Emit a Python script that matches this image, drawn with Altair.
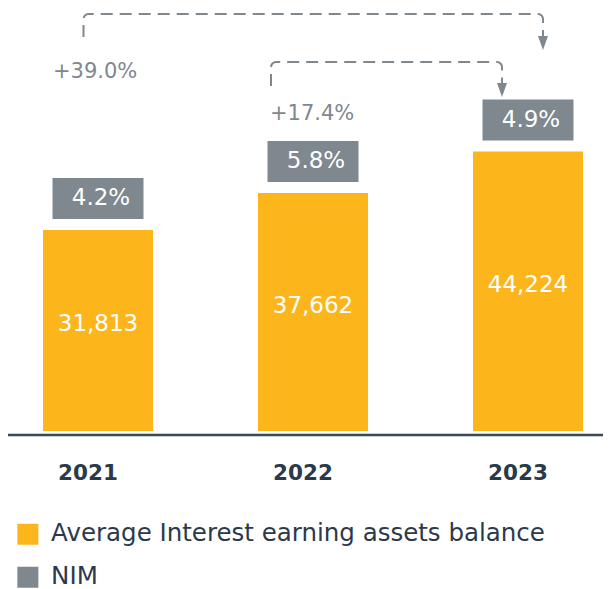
import math
import altair as alt
import pandas as pd

# ---------------- data ----------------
years = ["2021", "2022", "2023"]
assets = [31813, 37662, 44224]
nim = [4.2, 5.8, 4.9]
growth_labels = ["+39.0%", "+17.4%"]
growth_from = [0, 1]
growth_to = [2, 2]

SERIES_A = "Average Interest earning assets balance"
SERIES_N = "NIM"

# ---------------- style ----------------
ORANGE = "#FDB51C"
GREY = "#7F878F"
DARK = "#2B3A4A"
AXIS = "#34495A"
FONT = "DejaVu Sans"

W, H = 595, 581
STEP = 215.0          # px between bar centres
X0 = 90.0             # first bar centre (px in view)
BASE = 423.0          # baseline (px in view)
K = 0.00632           # px per value unit

x_dom = [-X0 / STEP, (W - X0) / STEP]
y_dom = [-(H - BASE) / K, BASE / K]
xs = alt.Scale(domain=x_dom, nice=False, zero=False)
ys = alt.Scale(domain=y_dom, nice=False, zero=False)


def ux(px):
    return px / STEP


def uy(px):
    return px / K


def vy(view_px):
    return (BASE - view_px) / K


# bars
bars = pd.DataFrame({
    "i": range(len(years)),
    "year": years,
    "value": assets,
    "series": SERIES_A,
})
bars["x1"] = bars["i"] - ux(55)
bars["x2"] = bars["i"] + ux(55)
bars["mid"] = bars["value"] / 2
bars["lab"] = [f"{v:,}" for v in assets]
bars["zero"] = 0

# NIM boxes
boxes = pd.DataFrame({"i": range(len(years)), "series": SERIES_N})
boxes["x1"] = boxes["i"] - ux(45.5)
boxes["x2"] = boxes["i"] + ux(45.5)
boxes["y1"] = [v + uy(11) for v in assets]
boxes["y2"] = boxes["y1"] + uy(41)
boxes["yc"] = (boxes["y1"] + boxes["y2"]) / 2
boxes["lab"] = [f"{n:.1f}%" for n in nim]

# annotation layout (px): left offset from start bar, right offset from end bar,
# top level (view px), start depth, tip depth, label dx from left leg, label depth
ann_layout = [
    dict(lo=-14.5, ro=15, top=6, start=23, tip=36, ldx=-30.5, ldepth=58),
    dict(lo=-42, ro=-26, top=54, start=24, tip=35, ldx=-1, ldepth=52),
]

line_rows, head_rows, lab_rows = [], [], []
r = 5.0
for a, (f, t, lab, L) in enumerate(zip(growth_from, growth_to, growth_labels, ann_layout)):
    lx = X0 + STEP * f + L["lo"]
    rx = X0 + STEP * t + L["ro"]
    top = L["top"]
    pts = [(lx, top + L["start"])]
    cx, cy = lx + r, top + r
    for th in (180, 157.5, 135, 112.5, 90):
        pts.append((cx + r * math.cos(math.radians(th)), cy - r * math.sin(math.radians(th))))
    cx, cy = rx - r, top + r
    for th in (90, 67.5, 45, 22.5, 0):
        pts.append((cx + r * math.cos(math.radians(th)), cy - r * math.sin(math.radians(th))))
    tip = top + L["tip"]
    pts.append((rx, tip - 12))
    for o, (px, py) in enumerate(pts):
        line_rows.append({"arrow": a, "order": o, "x": (px - X0) / STEP, "y": vy(py)})
    head_rows.append({"arrow": a, "x": (rx - X0) / STEP, "y": vy(tip - 7)})
    lab_rows.append({"x": (lx + L["ldx"] - X0) / STEP, "y": vy(top + L["ldepth"]), "lab": lab})

lines = pd.DataFrame(line_rows)
heads = pd.DataFrame(head_rows)
glabs = pd.DataFrame(lab_rows)

base_df = pd.DataFrame({"x1": [x_dom[0]], "x2": [x_dom[1]], "y": [0]})

color = alt.Color(
    "series:N",
    scale=alt.Scale(domain=[SERIES_A, SERIES_N], range=[ORANGE, GREY]),
    legend=alt.Legend(
        orient="none", legendX=7.6, legendY=514, direction="vertical", title=None,
        symbolType="square", symbolSize=441, symbolStrokeWidth=0, symbolOpacity=1,
        labelFont=FONT, labelFontSize=24.5, labelColor=DARK,
        labelOffset=11, rowPadding=18, padding=0, labelLimit=0,
    ),
)

bar_layer = alt.Chart(bars).mark_rect().encode(
    x=alt.X("x1:Q", scale=xs, axis=None), x2="x2:Q",
    y=alt.Y("zero:Q", scale=ys, axis=None), y2="value:Q",
    color=color,
)

box_layer = alt.Chart(boxes).mark_rect().encode(
    x=alt.X("x1:Q", scale=xs, axis=None), x2="x2:Q",
    y=alt.Y("y1:Q", scale=ys, axis=None), y2="y2:Q",
    color=color,
)

val_text = alt.Chart(bars).mark_text(
    color="white", font=FONT, fontSize=23, dy=-6, baseline="middle"
).encode(x=alt.X("i:Q", scale=xs), y=alt.Y("mid:Q", scale=ys), text="lab:N")

nim_text = alt.Chart(boxes).mark_text(
    color="white", font=FONT, fontSize=23, dx=3, baseline="middle"
).encode(x=alt.X("i:Q", scale=xs), y=alt.Y("yc:Q", scale=ys), text="lab:N")

year_text = alt.Chart(bars).mark_text(
    color=DARK, font=FONT, fontSize=21.5, fontWeight="bold", dx=-10, dy=42.5, baseline="middle"
).encode(x=alt.X("i:Q", scale=xs), y=alt.Y("zero:Q", scale=ys), text="year:N")

rule = alt.Chart(base_df).mark_rule(color=AXIS, strokeWidth=2.5, yOffset=4).encode(
    x=alt.X("x1:Q", scale=xs), x2="x2:Q", y=alt.Y("y:Q", scale=ys)
)

arrow_lines = alt.Chart(lines).mark_line(
    color=GREY, strokeWidth=2, strokeDash=[12, 7]
).encode(
    x=alt.X("x:Q", scale=xs), y=alt.Y("y:Q", scale=ys),
    order="order:Q", detail="arrow:N",
)

arrow_heads = alt.Chart(heads).mark_point(
    shape="M-1,-1.4L1,-1.4L0,1.4Z", filled=True, size=100, color=GREY, opacity=1
).encode(x=alt.X("x:Q", scale=xs), y=alt.Y("y:Q", scale=ys))

growth_text = alt.Chart(glabs).mark_text(
    color=GREY, font=FONT, fontSize=21, align="left", baseline="middle"
).encode(x=alt.X("x:Q", scale=xs), y=alt.Y("y:Q", scale=ys), text="lab:N")

chart = alt.layer(
    bar_layer, box_layer, rule, val_text, nim_text, year_text,
    arrow_lines, arrow_heads, growth_text,
).properties(
    width=W, height=H, autosize=alt.AutoSizeParams(type="none"), padding=0
).configure_view(stroke=None)

chart.save("out.html", embed_options={"renderer": "svg", "actions": False})
